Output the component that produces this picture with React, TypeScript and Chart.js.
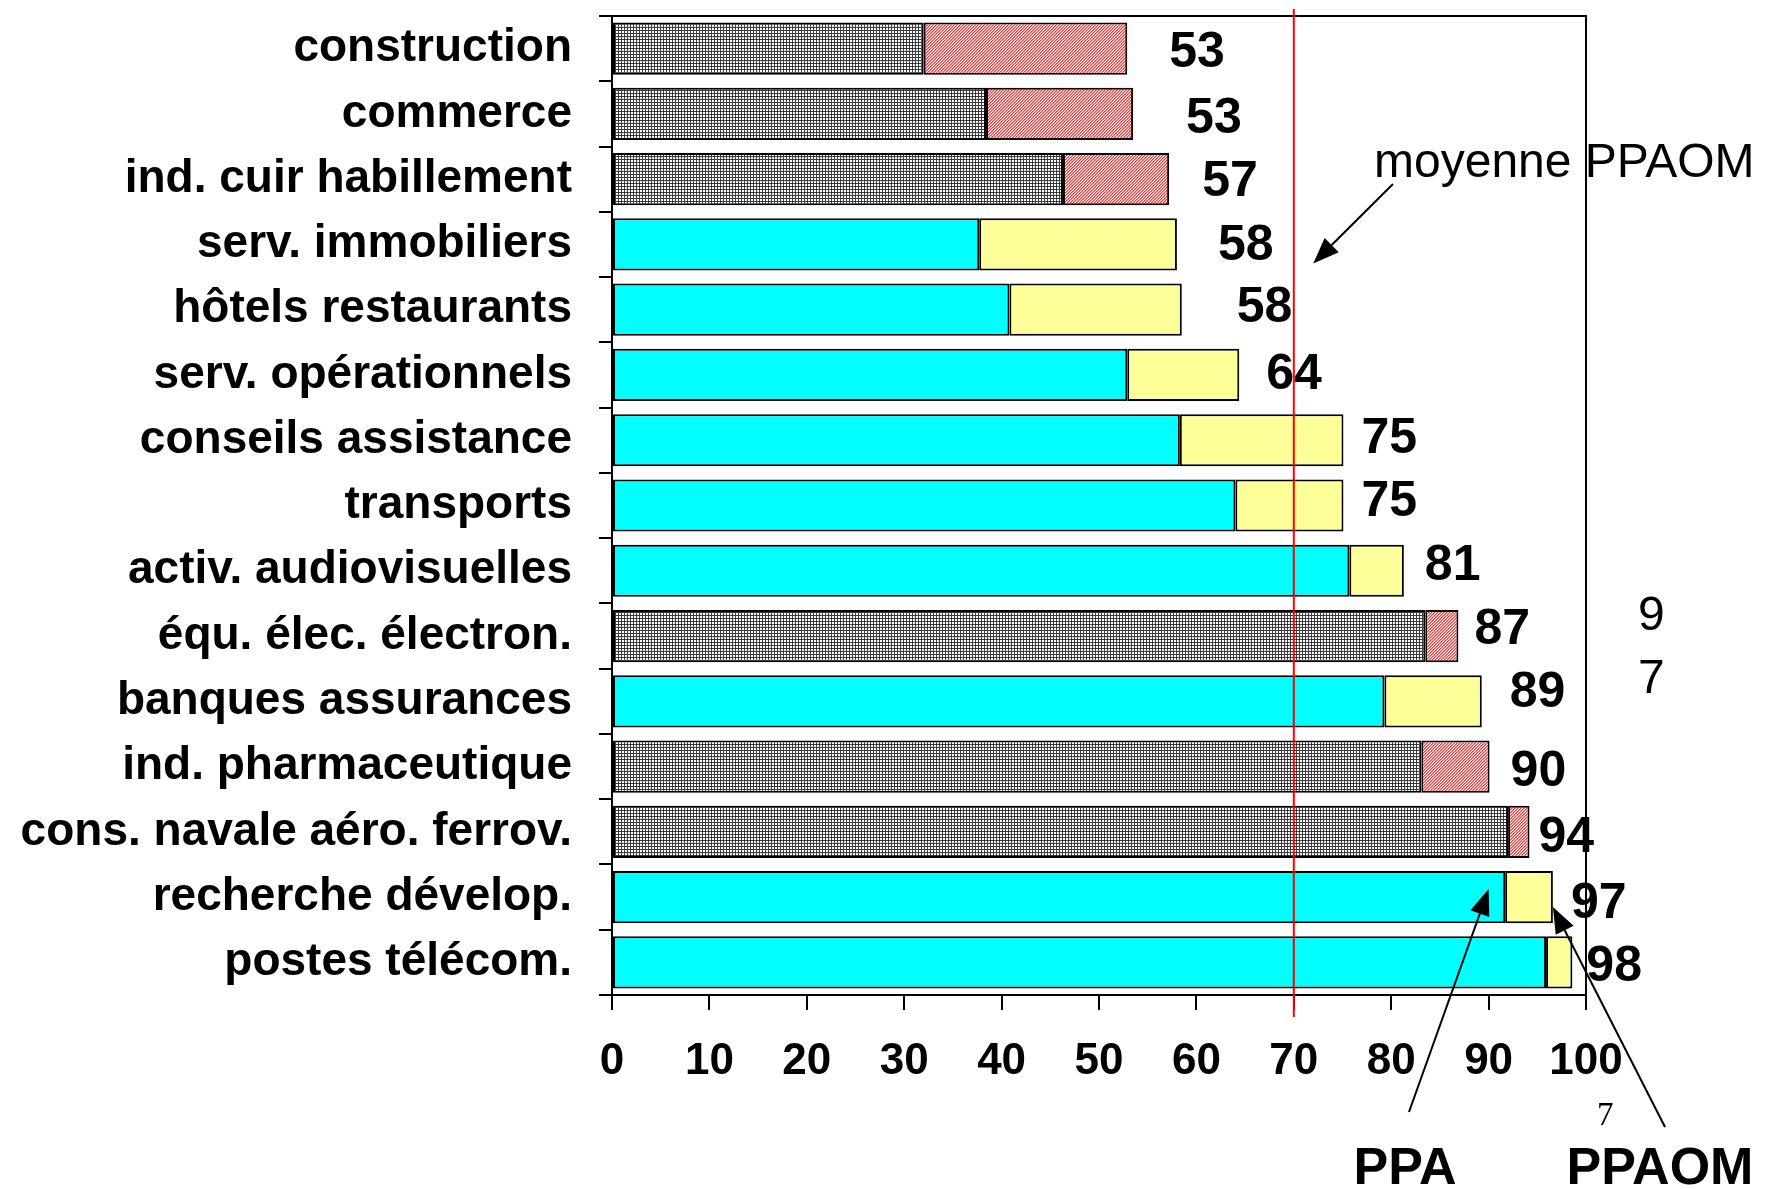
import React, { useEffect, useRef } from "react";
import { Chart, registerables } from "chart.js";

Chart.register(...registerables);

// ---------- data ----------
const categories = [
  "construction",
  "commerce",
  "ind. cuir habillement",
  "serv. immobiliers",
  "hôtels restaurants",
  "serv. opérationnels",
  "conseils assistance",
  "transports",
  "activ. audiovisuelles",
  "équ. élec. électron.",
  "banques assurances",
  "ind. pharmaceutique",
  "cons. navale aéro. ferrov.",
  "recherche dévelop.",
  "postes télécom.",
];
// "ind" = industry (patterned bars), "serv" = services (plain colours)
const sectorType = ["ind", "ind", "ind", "serv", "serv", "serv", "serv", "serv", "serv", "ind", "serv", "ind", "ind", "serv", "serv"];
const ppaValues = [32.0, 38.4, 46.3, 37.7, 40.8, 52.9, 58.3, 64.0, 75.7, 83.5, 79.3, 83.1, 92.0, 91.7, 95.9];
const ppaomValues = [52.9, 53.5, 57.2, 58.0, 58.5, 64.4, 75.1, 75.1, 81.3, 86.9, 89.3, 90.1, 94.2, 96.6, 98.6];
const ppaomLabels = ["53", "53", "57", "58", "58", "64", "75", "75", "81", "87", "89", "90", "94", "97", "98"];
const xTickValues = [0, 10, 20, 30, 40, 50, 60, 70, 80, 90, 100];
const averagePPAOM = 70;

// label layout nudges (px), annotation placement only
const labelGap = [42, 53, 33, 41, 55, 27, 18, 18, 21, 16, 28, 21, 9, 18, 14];
const labelDy = [5, 5, 3, 2, -1, 0, -1, -3, -5, -6, -8, 6, 6, 7, 5];

const FONT = '"Liberation Sans", Arial, Helvetica, sans-serif';

function makeGreyPattern(): CanvasPattern | string {
  const c = document.createElement("canvas");
  c.width = 3;
  c.height = 3;
  const g = c.getContext("2d");
  if (!g) return "#888";
  g.fillStyle = "#ffffff";
  g.fillRect(0, 0, 3, 3);
  g.fillStyle = "#3a3a3a";
  g.fillRect(0, 0, 3, 1);
  g.fillRect(0, 0, 1, 3);
  const p = g.createPattern(c, "repeat");
  return p || "#888";
}

function makeRedPattern(): CanvasPattern | string {
  const c = document.createElement("canvas");
  c.width = 3;
  c.height = 3;
  const g = c.getContext("2d");
  if (!g) return "#f99";
  for (let x = 0; x < 3; x++) {
    for (let y = 0; y < 3; y++) {
      const k = (x + y) % 3;
      g.fillStyle = k === 0 ? "#ff3030" : k === 1 ? "#ff9090" : "#ffffff";
      g.fillRect(x, y, 1, 1);
    }
  }
  const p = g.createPattern(c, "repeat");
  return p || "#f99";
}

function drawArrow(ctx: CanvasRenderingContext2D, x1: number, y1: number, x2: number, y2: number) {
  const ang = Math.atan2(y2 - y1, x2 - x1);
  const len = 26;
  const hw = 10;
  const bx = x2 - len * Math.cos(ang);
  const by = y2 - len * Math.sin(ang);
  ctx.beginPath();
  ctx.moveTo(x1, y1);
  ctx.lineTo(bx, by);
  ctx.stroke();
  ctx.beginPath();
  ctx.moveTo(x2, y2);
  ctx.lineTo(bx + hw * Math.sin(ang), by - hw * Math.cos(ang));
  ctx.lineTo(bx - hw * Math.sin(ang), by + hw * Math.cos(ang));
  ctx.closePath();
  ctx.fill();
}

const annotationPlugin = {
  id: "annotations",
  afterDraw(chart: any) {
    const { ctx, chartArea, scales } = chart;
    const xs = scales.x;
    const ys = scales.y;
    ctx.save();

    // plot frame (top + right)
    ctx.strokeStyle = "#000";
    ctx.lineWidth = 2;
    ctx.beginPath();
    ctx.moveTo(chartArea.left - 13, chartArea.top);
    ctx.lineTo(chartArea.right, chartArea.top);
    ctx.lineTo(chartArea.right, chartArea.bottom);
    ctx.stroke();

    // value labels
    ctx.fillStyle = "#000";
    ctx.font = `bold 50px ${FONT}`;
    ctx.textAlign = "left";
    ctx.textBaseline = "middle";
    ppaomLabels.forEach((t, i) => {
      const x = xs.getPixelForValue(ppaomValues[i]) + labelGap[i];
      const y = ys.getPixelForValue(i) + labelDy[i];
      ctx.fillText(t, x, y);
    });

    // average line
    const ax = xs.getPixelForValue(averagePPAOM);
    ctx.strokeStyle = "#ff0000";
    ctx.lineWidth = 2;
    ctx.beginPath();
    ctx.moveTo(ax, chartArea.top - 7);
    ctx.lineTo(ax, chartArea.bottom + 22);
    ctx.stroke();

    // annotation texts
    ctx.fillStyle = "#000";
    ctx.textBaseline = "alphabetic";
    ctx.textAlign = "left";
    ctx.font = `48px ${FONT}`;
    ctx.fillText("moyenne PPAOM", 1374, 177);
    ctx.font = `48px ${FONT}`;
    ctx.fillText("9", 1638, 630);
    ctx.fillText("7", 1638, 693);
    ctx.font = `33px "Liberation Serif", "Times New Roman", serif`;
    ctx.fillText("7", 1597, 1125);
    ctx.font = `bold 52px ${FONT}`;
    ctx.textAlign = "center";
    ctx.fillText("PPA", 1405, 1184);
    ctx.fillText("PPAOM", 1660, 1184);

    // arrows
    ctx.strokeStyle = "#000";
    ctx.fillStyle = "#000";
    ctx.lineWidth = 2;
    drawArrow(ctx, 1393, 184, xs.getPixelForValue(72), ys.getPixelForValue(3) + 19);
    drawArrow(ctx, 1409, 1112, xs.getPixelForValue(90), ys.getPixelForValue(13) - 8);
    drawArrow(ctx, 1665, 1127, xs.getPixelForValue(ppaomValues[13]), ys.getPixelForValue(13) + 10);

    ctx.restore();
  },
};

export default function App() {
  const canvasRef = useRef<HTMLCanvasElement | null>(null);

  useEffect(() => {
    if (!canvasRef.current) return;
    const grey = makeGreyPattern();
    const red = makeRedPattern();
    const firstColors = sectorType.map((t) => (t === "ind" ? grey : "#00FFFF"));
    const secondColors = sectorType.map((t) => (t === "ind" ? red : "#FFFF99"));

    const chart = new Chart(canvasRef.current, {
      type: "bar",
      data: {
        labels: categories,
        datasets: [
          {
            label: "PPA",
            data: ppaValues,
            backgroundColor: firstColors as any,
            borderColor: "#000",
            borderWidth: 2,
            borderSkipped: false,
            grouped: false,
            barPercentage: 0.8,
            categoryPercentage: 1,
          } as any,
          {
            label: "PPAOM",
            data: ppaValues.map((v, i) => [v, ppaomValues[i]]),
            backgroundColor: secondColors as any,
            borderColor: "#000",
            borderWidth: 2,
            borderSkipped: false,
            grouped: false,
            barPercentage: 0.8,
            categoryPercentage: 1,
          } as any,
        ],
      },
      options: {
        indexAxis: "y",
        animation: false,
        responsive: true,
        maintainAspectRatio: false,
        devicePixelRatio: 1,
        layout: { padding: { left: 0, right: 190, top: 16, bottom: 0 } },
        plugins: {
          legend: { display: false },
          tooltip: { enabled: false },
          title: { display: false },
        },
        scales: {
          x: {
            type: "linear",
            min: 0,
            max: 100,
            afterBuildTicks: (scale: any) => {
              scale.ticks = xTickValues.map((v) => ({ value: v }));
            },
            afterFit: (scale: any) => {
              scale.height = 194;
              scale.paddingLeft = 0;
              scale.paddingRight = 0;
            },
            grid: {
              display: true,
              drawOnChartArea: false,
              drawTicks: true,
              tickLength: 15,
              color: "#000",
              lineWidth: 2,
            },
            border: { display: true, color: "#000", width: 2 },
            ticks: {
              color: "#000",
              padding: 25,
              font: { family: FONT, size: 44, weight: "bold" },
            },
          },
          y: {
            type: "category",
            offset: true,
            afterFit: (scale: any) => {
              scale.width = 612;
              scale.paddingTop = 0;
              scale.paddingBottom = 0;
            },
            grid: {
              display: true,
              offset: true,
              drawOnChartArea: false,
              drawTicks: true,
              tickLength: 13,
              color: "#000",
              lineWidth: 2,
            },
            border: { display: true, color: "#000", width: 2 },
            ticks: {
              color: "#000",
              padding: 27,
              autoSkip: false,
              font: { family: FONT, size: 46, weight: "bold" },
            },
          },
        },
      } as any,
      plugins: [annotationPlugin],
    });

    return () => {
      chart.destroy();
    };
  }, []);

  return (
    <div style={{ position: "absolute", left: 0, top: 0, width: 1776, height: 1189, background: "#fff" }}>
      <canvas ref={canvasRef} />
    </div>
  );
}
